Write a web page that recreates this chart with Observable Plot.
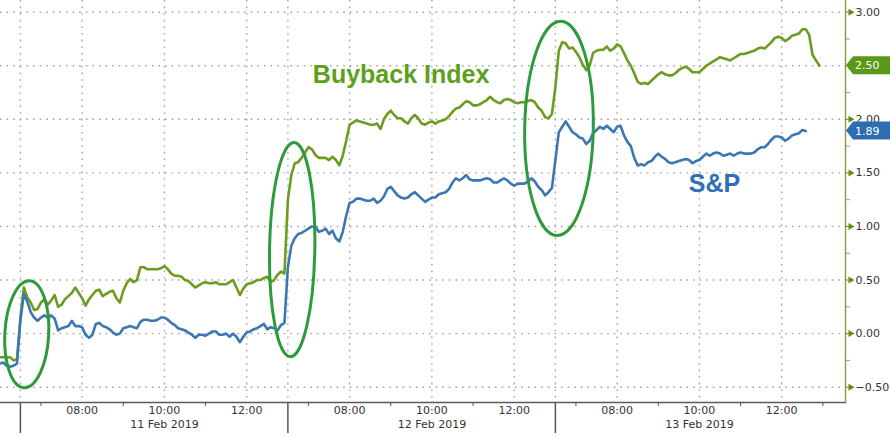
<!DOCTYPE html>
<html>
<head>
<meta charset="utf-8">
<script src="https://cdn.jsdelivr.net/npm/d3@7"></script>
<script src="https://cdn.jsdelivr.net/npm/@observablehq/plot@0.6"></script>
<style>
  html, body { margin: 0; padding: 0; background: #fff; }
  #chart svg { display: block; }
</style>
</head>
<body>
<div id="chart"></div>
<script>
// ---------- data ----------
const sessions = ["8 Feb 2019", "11 Feb 2019", "12 Feb 2019", "13 Feb 2019"];
const firstBar = ["12:30", "06:30", "06:30", "06:30"];
const sessionOpen = "06:30";
const sessionClose = "13:00";
const barMinutes = 5;

// Buyback Index, % change, 5-minute bars
const buybackFeb08 = [-0.22, -0.22, -0.22, -0.22, -0.25, -0.24];
const buybackFeb11 = [
  0.15, 0.43, 0.34, 0.29, 0.22, 0.23, 0.29, 0.32, 0.27, 0.31,
  0.36, 0.25, 0.27, 0.32, 0.35, 0.38, 0.43, 0.38, 0.33, 0.26,
  0.32, 0.36, 0.40, 0.41, 0.35, 0.37, 0.39, 0.40, 0.33, 0.29,
  0.40, 0.47, 0.51, 0.48, 0.50, 0.62, 0.62, 0.60, 0.60, 0.60,
  0.60, 0.61, 0.63, 0.60, 0.56, 0.54, 0.54, 0.53, 0.50, 0.49,
  0.46, 0.43, 0.45, 0.47, 0.48, 0.47, 0.47, 0.48, 0.46, 0.46,
  0.46, 0.48, 0.50, 0.43, 0.36, 0.42, 0.46, 0.47, 0.48, 0.50,
  0.50, 0.52, 0.53, 0.48, 0.50, 0.55, 0.58, 0.56];
const buybackFeb12 = [
  1.25, 1.48, 1.59, 1.60, 1.64, 1.69, 1.74, 1.72, 1.67, 1.64,
  1.64, 1.64, 1.62, 1.65, 1.62, 1.57, 1.66, 1.80, 1.95, 1.97,
  1.99, 1.98, 1.97, 1.96, 1.95, 1.95, 1.96, 1.91, 2.00, 2.05,
  2.08, 2.04, 2.01, 2.01, 1.98, 1.96, 2.01, 2.04, 2.01, 1.96,
  1.95, 1.97, 1.98, 1.96, 1.98, 1.99, 2.00, 2.03, 2.07, 2.10,
  2.11, 2.14, 2.17, 2.16, 2.13, 2.13, 2.14, 2.16, 2.18, 2.21,
  2.18, 2.16, 2.15, 2.18, 2.19, 2.18, 2.16, 2.15, 2.16, 2.16,
  2.17, 2.18, 2.16, 2.11, 2.08, 2.02, 2.01, 2.05];
const buybackFeb13 = [
  2.30, 2.64, 2.72, 2.71, 2.66, 2.67, 2.63, 2.58, 2.51, 2.46,
  2.50, 2.62, 2.64, 2.65, 2.65, 2.68, 2.64, 2.66, 2.70, 2.68,
  2.62, 2.55, 2.50, 2.43, 2.35, 2.33, 2.34, 2.33, 2.36, 2.39,
  2.42, 2.44, 2.42, 2.41, 2.41, 2.43, 2.46, 2.48, 2.49, 2.47,
  2.44, 2.44, 2.44, 2.47, 2.50, 2.52, 2.54, 2.56, 2.58, 2.57,
  2.56, 2.55, 2.57, 2.59, 2.61, 2.61, 2.62, 2.63, 2.64, 2.66,
  2.67, 2.66, 2.69, 2.72, 2.76, 2.77, 2.76, 2.73, 2.75, 2.78,
  2.79, 2.80, 2.84, 2.84, 2.79, 2.60, 2.55, 2.50];

// S&P 500, % change, 5-minute bars
const spFeb08 = [-0.28, -0.27, -0.30, -0.31, -0.30, -0.28];
const spFeb11 = [
  0.12, 0.37, 0.30, 0.20, 0.15, 0.12, 0.15, 0.17, 0.15, 0.17,
  0.14, 0.03, 0.05, 0.06, 0.07, 0.12, 0.07, 0.07, 0.06, -0.01,
  -0.04, -0.01, 0.09, 0.10, 0.07, 0.06, 0.04, 0.01, -0.01, 0.00,
  0.05, 0.06, 0.07, 0.06, 0.05, 0.11, 0.13, 0.13, 0.12, 0.12,
  0.13, 0.15, 0.15, 0.13, 0.10, 0.08, 0.05, 0.04, 0.03, 0.01,
  -0.01, -0.04, -0.01, -0.01, -0.02, 0.00, 0.02, 0.02, -0.01, -0.01,
  0.00, -0.03, 0.00, -0.03, -0.08, -0.03, 0.01, 0.02, 0.04, 0.05,
  0.07, 0.09, 0.04, 0.06, 0.05, 0.03, 0.08, 0.10];
const spFeb12 = [
  0.62, 0.82, 0.89, 0.93, 0.94, 0.96, 0.98, 1.00, 1.00, 0.95,
  0.96, 0.98, 0.93, 0.96, 0.89, 0.86, 0.95, 1.10, 1.22, 1.23,
  1.26, 1.26, 1.25, 1.24, 1.24, 1.26, 1.22, 1.24, 1.28, 1.35,
  1.37, 1.33, 1.29, 1.27, 1.26, 1.27, 1.30, 1.32, 1.29, 1.26,
  1.23, 1.25, 1.27, 1.27, 1.30, 1.31, 1.32, 1.35, 1.41, 1.45,
  1.43, 1.45, 1.48, 1.44, 1.43, 1.43, 1.43, 1.44, 1.45, 1.44,
  1.41, 1.41, 1.43, 1.45, 1.43, 1.40, 1.38, 1.40, 1.40, 1.40,
  1.42, 1.45, 1.42, 1.37, 1.34, 1.29, 1.32, 1.36];
const spFeb13 = [
  1.62, 1.88, 1.93, 1.98, 1.93, 1.88, 1.86, 1.83, 1.82, 1.77,
  1.80, 1.87, 1.90, 1.93, 1.91, 1.94, 1.91, 1.88, 1.93, 1.94,
  1.85, 1.79, 1.75, 1.64, 1.57, 1.58, 1.57, 1.60, 1.61, 1.65,
  1.68, 1.65, 1.63, 1.60, 1.59, 1.60, 1.61, 1.62, 1.63, 1.62,
  1.59, 1.61, 1.62, 1.65, 1.68, 1.66, 1.68, 1.69, 1.68, 1.66,
  1.67, 1.68, 1.66, 1.68, 1.69, 1.68, 1.68, 1.68, 1.69, 1.72,
  1.74, 1.74, 1.77, 1.81, 1.84, 1.84, 1.83, 1.80, 1.82, 1.85,
  1.86, 1.87, 1.90, 1.89];

const seriesNames = ["Buyback Index", "S&P"];
const seriesColors = ["#6d9c22", "#3c77b3"];
const labelColors = ["#5a9818", "#2f6db2"];
const annotationColors = ["#5aa11c", "#2f6fb8"];

// tick labels
const labelHours = ["08:00", "10:00", "12:00"];
const minorHours = ["07:00", "09:00", "11:00", "13:00"];
const dateHour = "10:00";
const yTicks = [-0.5, 0, 0.5, 1, 1.5, 2, 2.5, 3];
const yMinorTicks = [-0.25, 0.25, 0.75, 1.25, 1.75, 2.25, 2.75];
const yDomain = [-0.643, 3.109];
const viewStart = ["8 Feb 2019", "12:31"];
const viewEnd = ["13 Feb 2019", "13:33"];

// annotations
const annotations = [
  {text: "Buyback Index", session: "12 Feb 2019", time: "09:15", value: 2.41, series: 0},
  {text: "S&P", session: "13 Feb 2019", time: "10:22", value: 1.40, series: 1}
];
const ellipses = [
  {session: "11 Feb 2019", time: "06:40", value: -0.01, halfMinutes: 32, halfValue: 0.50, tilt: 3},
  {session: "12 Feb 2019", time: "06:37", value: 0.78, halfMinutes: 33, halfValue: 1.00, tilt: 1},
  {session: "13 Feb 2019", time: "06:36", value: 1.91, halfMinutes: 50, halfValue: 1.00, tilt: 1}
];

// ---------- build ----------
const clock = s => { const [h, m] = s.split(":").map(Number); return h * 60 + m; };
const sessionLength = clock(sessionClose) - clock(sessionOpen);
const sessionRank = s => sessions.indexOf(s) - 1; // 11 Feb = 0
const pos = (session, time) => sessionRank(session) * sessionLength + clock(time) - clock(sessionOpen);
const pad = n => String(n).padStart(2, "0");

const seriesParts = [
  [buybackFeb08, buybackFeb11, buybackFeb12, buybackFeb13],
  [spFeb08, spFeb11, spFeb12, spFeb13]
];
const rows = [];
seriesParts.forEach((parts, k) => {
  parts.forEach((vals, s) => {
    const start = clock(firstBar[s]);
    vals.forEach((v, i) => {
      const t = start + i * barMinutes;
      const time = pad(Math.floor(t / 60)) + ":" + pad(t % 60);
      rows.push({series: seriesNames[k], pos: pos(sessions[s], time), value: v});
    });
  });
});

const axisSessions = sessions.slice(1);
const boundaries = axisSessions.map(s => pos(s, sessionOpen));
const labelTicks = axisSessions.flatMap(s => labelHours.map(h => ({pos: pos(s, h), text: h})));
const minorTicks = axisSessions.flatMap(s => minorHours.map(h => pos(s, h)))
  .filter(p => !boundaries.includes(p));
const dateTicks = axisSessions.map(s => ({pos: pos(s, dateHour), text: s}));
const vGrid = [...boundaries, ...labelTicks.map(d => d.pos)];

const lastValues = seriesParts.map(parts => { const v = parts[parts.length - 1]; return v[v.length - 1]; });

const SVGNS = "http://www.w3.org/2000/svg";
function ellipseMark(index, scales) {
  const g = document.createElementNS(SVGNS, "g");
  for (const e of ellipses) {
    const p = pos(e.session, e.time);
    const cx = scales.x(p), cy = scales.y(e.value);
    const rx = scales.x(p + e.halfMinutes) - cx;
    const ry = scales.y(e.value - e.halfValue) - cy;
    const el = document.createElementNS(SVGNS, "ellipse");
    el.setAttribute("cx", cx); el.setAttribute("cy", cy);
    el.setAttribute("rx", rx); el.setAttribute("ry", ry);
    el.setAttribute("transform", `rotate(${e.tilt} ${cx} ${cy})`);
    el.setAttribute("fill", "none");
    el.setAttribute("stroke", "#2f9a3c");
    el.setAttribute("stroke-width", 3);
    g.appendChild(el);
  }
  return g;
}
function lastValueMark(index, scales, values, dimensions) {
  const g = document.createElementNS(SVGNS, "g");
  const x0 = dimensions.width - dimensions.marginRight + 1;
  const x1 = dimensions.width;
  lastValues.forEach((v, k) => {
    const cy = scales.y(v), h = 9;
    const path = document.createElementNS(SVGNS, "path");
    path.setAttribute("d", `M${x0},${cy} L${x0 + 7},${cy - h} L${x1},${cy - h} L${x1},${cy + h} L${x0 + 7},${cy + h} Z`);
    path.setAttribute("fill", labelColors[k]);
    g.appendChild(path);
    const t = document.createElementNS(SVGNS, "text");
    t.setAttribute("x", x0 + 9); t.setAttribute("y", cy);
    t.setAttribute("dy", "0.36em");
    t.setAttribute("text-anchor", "start");
    t.setAttribute("fill", "#fff");
    t.setAttribute("font-size", 11);
    t.setAttribute("font-family", "DejaVu Sans");
    t.textContent = d3.format(".2f")(v);
    g.appendChild(t);
  });
  return g;
}

const dotted = {stroke: "#a3a3a3", strokeDasharray: "1.6,5", strokeWidth: 1.4};

const chart = Plot.plot({
  width: 890,
  height: 438,
  marginLeft: 0,
  marginRight: 45,
  marginTop: 0,
  marginBottom: 36,
  style: {fontFamily: "DejaVu Sans", fontSize: "11px", color: "#333", background: "#fff"},
  x: {type: "linear", domain: [pos(...viewStart), pos(...viewEnd)], axis: null},
  y: {domain: yDomain, axis: null},
  marks: [
    Plot.ruleY(yTicks, dotted),
    Plot.ruleX(vGrid, dotted),
    Plot.line(rows.filter(d => d.series === seriesNames[0]), {x: "pos", y: "value", stroke: seriesColors[0], strokeWidth: 2.6, clip: true}),
    Plot.line(rows.filter(d => d.series === seriesNames[1]), {x: "pos", y: "value", stroke: seriesColors[1], strokeWidth: 2.6, clip: true}),
    ellipseMark,
    Plot.text(annotations, {
      x: d => pos(d.session, d.time), y: "value", text: "text",
      fill: d => annotationColors[d.series],
      fontSize: 25, fontWeight: "bold", fontFamily: "Liberation Sans"
    }),
    Plot.frame({anchor: "bottom", stroke: "#5a5a5a", strokeWidth: 1.5}),
    Plot.frame({anchor: "right", stroke: "#8d9c50", strokeWidth: 1.5}),
    Plot.axisX({ticks: minorTicks, tickSize: 4, tickFormat: () => "", stroke: "#555", label: null}),
    Plot.axisX({ticks: boundaries, tickSize: 31, tickFormat: () => "", stroke: "#555", strokeWidth: 1.5, label: null}),
    Plot.text(labelTicks, {x: "pos", text: "text", frameAnchor: "bottom", dy: 11, fill: "#333"}),
    Plot.text(dateTicks, {x: "pos", text: "text", frameAnchor: "bottom", dy: 25, fill: "#333"}),
    Plot.axisY({anchor: "right", ticks: yMinorTicks, tickSize: 4, tickFormat: () => "", stroke: "#999", label: null}),
    Plot.axisY({anchor: "right", ticks: yTicks, tickSize: 6, tickPadding: 4, tickFormat: d3.format(".2f"), stroke: "#5f8c1e", fill: "#333", label: null}),
    Plot.dot(yTicks, {y: d => d, frameAnchor: "right", symbol: "triangle", rotate: 90, r: 2.6, fill: "#5f8c1e", dx: 5}),
    lastValueMark
  ]
});
document.getElementById("chart").appendChild(chart);
</script>
</body>
</html>
